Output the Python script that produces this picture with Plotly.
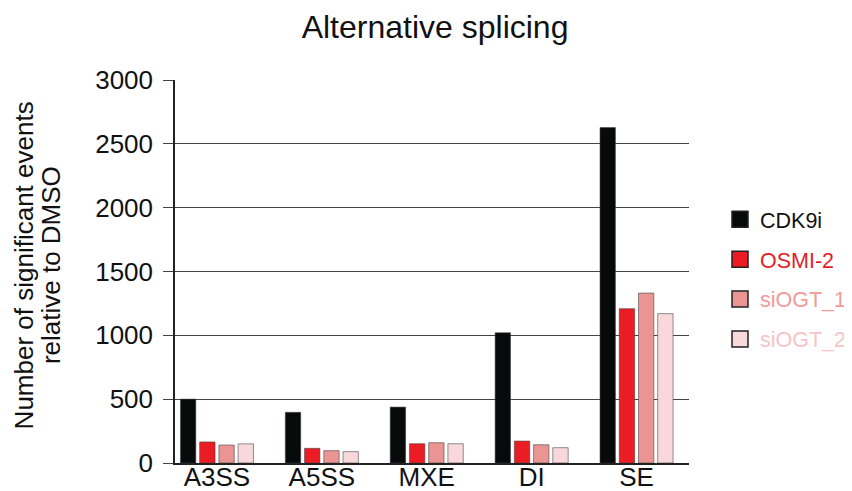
import plotly.graph_objects as go

categories = ["A3SS", "A5SS", "MXE", "DI", "SE"]
series_names = ["CDK9i", "OSMI-2", "siOGT_1", "siOGT_2"]
cdk9i = [500, 397, 438, 1020, 2627]
osmi2 = [165, 115, 151, 172, 1209]
siogt1 = [141, 97, 159, 143, 1331]
siogt2 = [150, 89, 151, 120, 1170]
values = [cdk9i, osmi2, siogt1, siogt2]
colors = ["#070a0b", "#ec1c24", "#ea9494", "#f8d8da"]
text_colors = ["#111111", "#e31e24", "#f19a9a", "#f6c4c8"]
title_lines = ["Number of significant events", "relative to DMSO"]

FONT = "Liberation Sans, Arial, sans-serif"

fig = go.Figure()
for name, vals, col in zip(series_names, values, colors):
    fig.add_trace(go.Bar(
        x=categories, y=vals, name=name, showlegend=False,
        marker=dict(color=col, line=dict(color="rgba(60,60,60,0.55)", width=1)),
    ))
# legend entries (square swatches)
for name, col, tcol in zip(series_names, colors, text_colors):
    fig.add_trace(go.Scatter(
        x=[None], y=[None], mode="markers",
        name=f"<span style='color:{tcol}'>{name}</span>",
        legendgroup=name,
        marker=dict(symbol="square", size=16, color=col,
                    line=dict(color="#222", width=1.5)),
    ))

fig.update_layout(
    width=844, height=483,
    paper_bgcolor="white", plot_bgcolor="white",
    font=dict(family=FONT, size=26, color="#111"),
    title=dict(text="Alternative splicing", x=0.506, xanchor="center", y=0.961, yanchor="middle",
               font=dict(size=32, color="#111")),
    margin=dict(l=167, r=163, t=72, b=28, autoexpand=False),
    barmode="group", bargap=0.267, bargroupgap=0.2,
    showlegend=True,
    legend=dict(xref="container", x=1.0, xanchor="right", y=0.69, yanchor="top",
                font=dict(size=21.5), tracegroupgap=9, itemsizing="trace",
                bgcolor="rgba(0,0,0,0)"),
    xaxis=dict(range=[-0.4, 4.5], showline=True, linecolor="#222", linewidth=1.5,
               ticks="", showgrid=False, tickfont=dict(size=26), automargin=False,
               ticklabelstandoff=-10),
    yaxis=dict(range=[0, 3000], tickvals=[0, 500, 1000, 1500, 2000, 2500, 3000],
               showline=True, linecolor="#222", linewidth=1.5,
               ticks="outside", ticklen=10, tickcolor="#444", tickwidth=1,
               showgrid=True, gridcolor="#444", gridwidth=1, zeroline=False,
               tickfont=dict(size=26), automargin=False, ticklabelstandoff=5),
)

for line, xp in zip(title_lines, [-0.293, -0.241]):
    fig.add_annotation(text=line, xref="paper", yref="paper", x=xp, y=0.517,
                       xanchor="center", yanchor="middle", textangle=-90,
                       showarrow=False, font=dict(size=26, color="#111"))

fig.write_html("out.html")
